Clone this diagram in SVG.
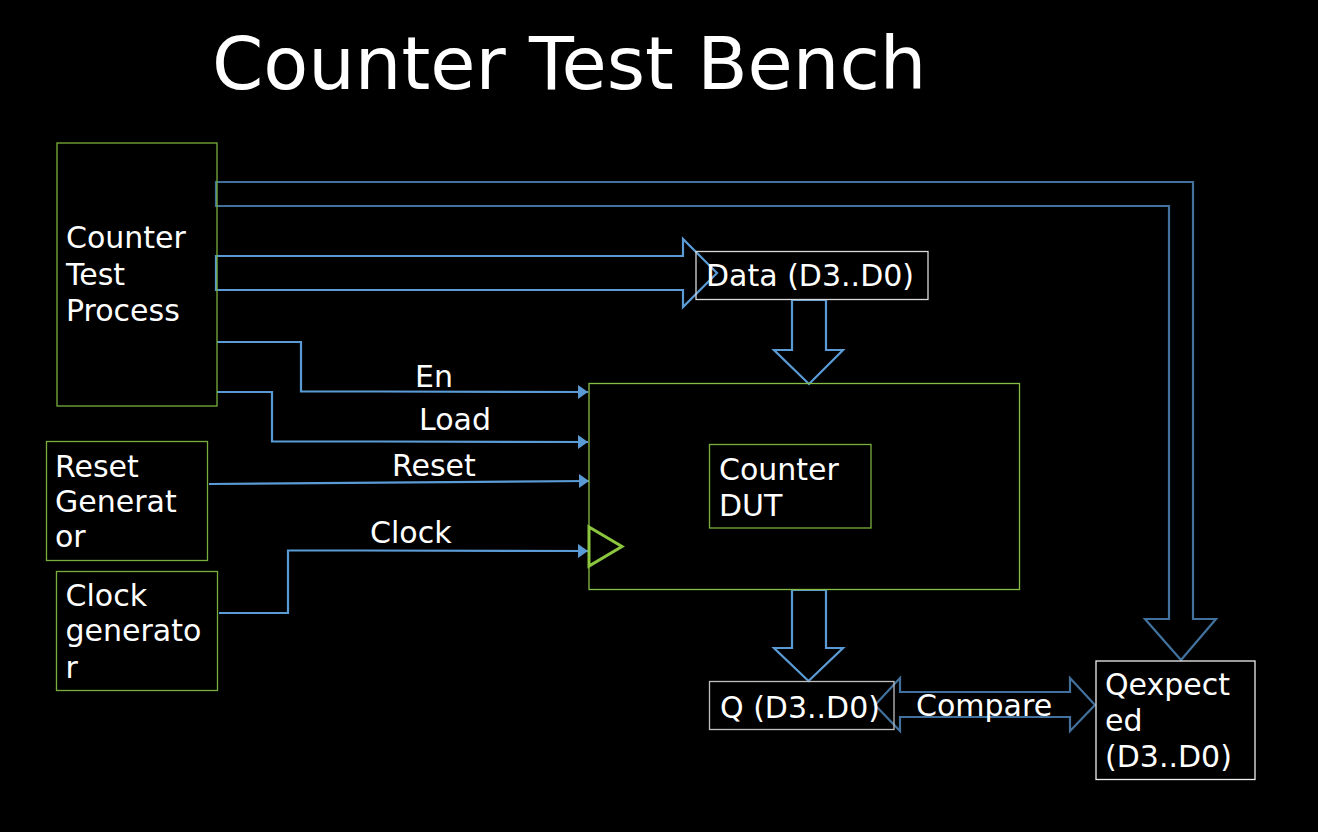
<svg xmlns="http://www.w3.org/2000/svg" width="1318" height="832" viewBox="0 0 1318 832">
<defs>
<style>
.t{font-family:"DejaVu Sans","Verdana",sans-serif;font-size:30px;fill:#ffffff}
.title{font-family:"DejaVu Sans","Verdana",sans-serif;font-size:73.5px;fill:#ffffff}
.gbox{fill:none;stroke:#7aae3c;stroke-width:1.3}
.wbox{fill:none;stroke:#d9d9d9;stroke-width:1.3}
.lb{fill:none;stroke:#5b9bd5;stroke-width:2.2}
.db{fill:none;stroke:#41719c;stroke-width:2.2}
.conn{fill:none;stroke:#5b9bd5;stroke-width:2.2}
</style>
<marker id="ah" markerUnits="userSpaceOnUse" markerWidth="12" markerHeight="16" refX="10" refY="7" orient="auto">
<path d="M0,0 L10,7 L0,14 Z" fill="#5b9bd5"/>
</marker>
</defs>
<rect width="1318" height="832" fill="#000"/>
<text class="title" x="212" y="89">Counter Test Bench</text>

<g id="connectors">
<path class="db" d="M216,182 L1193,182 L1193,619 L1216,619 L1181,660 L1145,619 L1169,619 L1169,206 L216,206 Z"/>
<path class="lb" d="M216,256 L683,256 L683,239 L717,273 L683,307 L683,290 L216,290 Z"/>
<path class="lb" d="M792,300 L826,300 L826,350 L843,350 L809,384 L774,350 L792,350 Z"/>
<path class="lb" d="M792,590 L826,590 L826,648 L843,648 L808.5,681 L774,648 L792,648 Z"/>
<path class="db" d="M875,705 L900,678 L900,692 L1070,692 L1070,678 L1095,705 L1070,731 L1070,717 L900,717 L900,731 Z"/>
<path class="conn" d="M217,342 L301,342 L301,391.5 L377,391.5 L588,392" marker-end="url(#ah)"/>
<path class="conn" d="M217,392 L272,392 L272,441.5 L377,441.5 L588,442" marker-end="url(#ah)"/>
<path class="conn" d="M209,484 L589,481" marker-end="url(#ah)"/>
<path class="conn" d="M219,613 L288,613 L288,550.5 L357,550.5 L588,551" marker-end="url(#ah)"/>
<text class="t" x="415" y="387">En</text>
<text class="t" x="419" y="430">Load</text>
<text class="t" x="392" y="476">Reset</text>
<text class="t" x="370" y="543">Clock</text>
<text class="t" x="916" y="716">Compare</text>
</g>

<g id="counter-test-process">
<rect class="gbox" x="57" y="143" width="160" height="263"/>
<text class="t" x="66" y="248">Counter</text>
<text class="t" x="66" y="285">Test</text>
<text class="t" x="66" y="321">Process</text>
</g>

<g id="data">
<rect class="wbox" x="696" y="251.5" width="232" height="48"/>
<text class="t" x="706" y="286">Data (D3..D0)</text>
</g>

<g id="dut">
<rect class="gbox" x="589" y="383.5" width="430.5" height="206" style="stroke:#86bd44"/>
<polygon points="589,527 622,546.5 589,566" fill="none" stroke="#8cc63f" stroke-width="3"/>
</g>

<g id="counter-dut">
<rect class="gbox" x="709.5" y="444.5" width="161.5" height="83.5"/>
<text class="t" x="719" y="480">Counter</text>
<text class="t" x="719" y="516">DUT</text>
</g>

<g id="reset-generator">
<rect class="gbox" x="46.5" y="441.5" width="161" height="119"/>
<text class="t" x="55" y="477">Reset</text>
<text class="t" x="55" y="512">Generat</text>
<text class="t" x="55" y="547">or</text>
</g>

<g id="clock-generator">
<rect class="gbox" x="56.5" y="571.5" width="161" height="119"/>
<text class="t" x="65.5" y="606">Clock</text>
<text class="t" x="65.5" y="641">generato</text>
<text class="t" x="65.5" y="678">r</text>
</g>

<g id="q">
<rect class="wbox" x="709.5" y="681.5" width="184.5" height="48" style="stroke:#bfbfbf"/>
<text class="t" x="720" y="718">Q (D3..D0)</text>
</g>

<g id="qexpected">
<rect class="wbox" x="1096" y="661" width="159" height="118.5" style="stroke:#eeeeee"/>
<text class="t" x="1105" y="695">Qexpect</text>
<text class="t" x="1105" y="731">ed</text>
<text class="t" x="1105" y="767">(D3..D0)</text>
</g>
</svg>
